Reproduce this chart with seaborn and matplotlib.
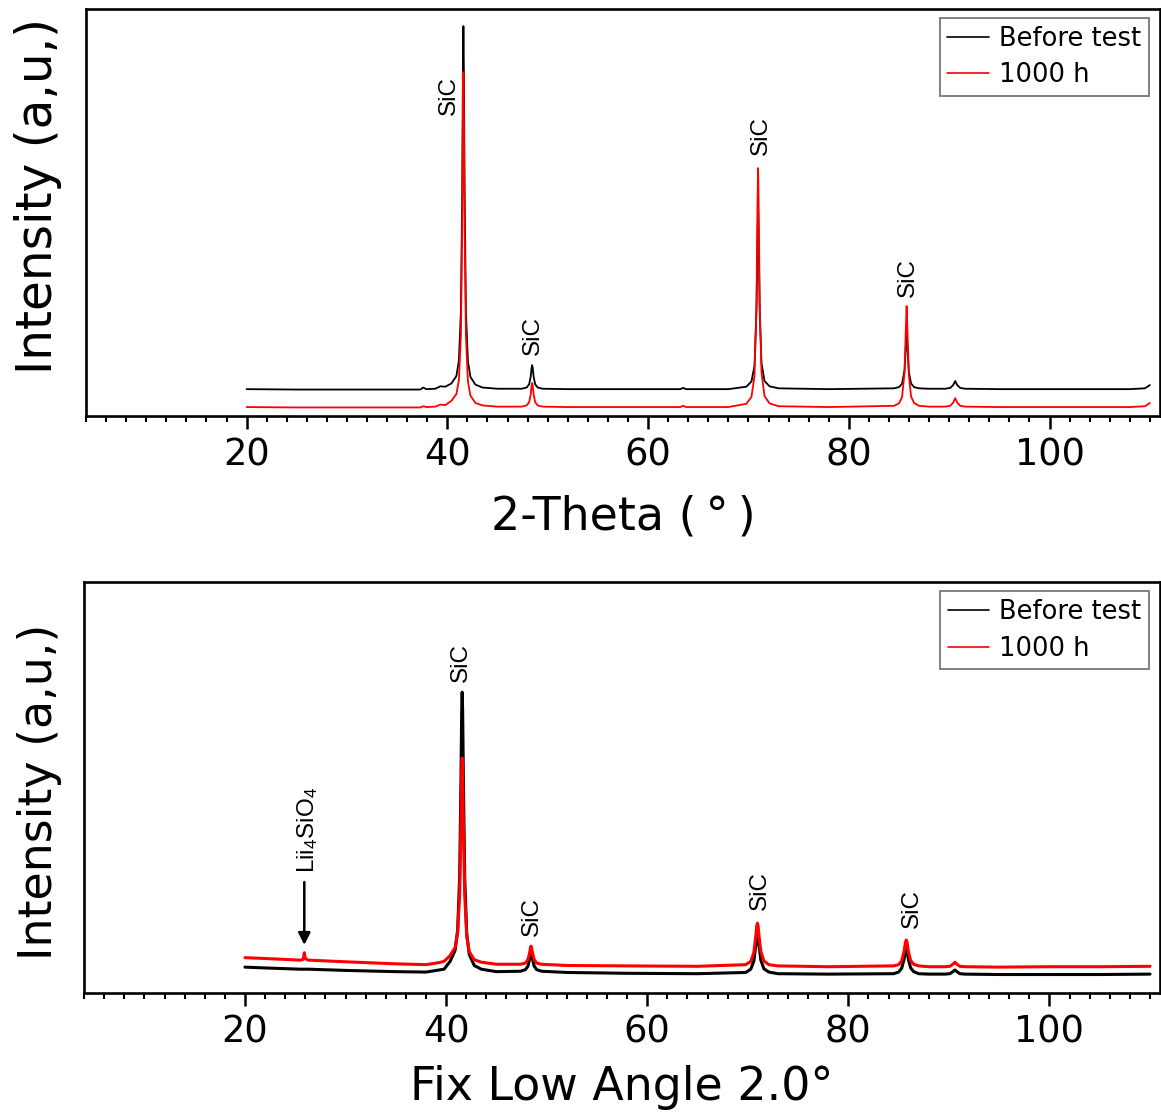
import numpy as np
import pandas as pd
import matplotlib
matplotlib.use("Agg")
import matplotlib.pyplot as plt
from matplotlib.ticker import MultipleLocator
import seaborn as sns

# ---------------- data ----------------
series_names = ["Before test", "1000 h"]
series_colors = ["#000000", "#ff0000"]

# Upper panel: standard scan
top_theta = [20, 25, 30, 35, 37.3, 37.6, 37.9, 38.8, 39.3, 39.8, 40.4, 40.9, 41.15, 41.35,
             41.48, 41.55, 41.6, 41.65, 41.72, 41.85, 42.05, 42.3, 42.8, 43.5, 45, 47.4,
             47.9, 48.15, 48.3, 48.4, 48.45, 48.5, 48.6, 48.75, 49.0, 49.5, 52, 58, 63.2,
             63.5, 63.8, 68, 69.8, 70.3, 70.6, 70.8, 70.9, 70.96, 71.02, 71.12, 71.3, 71.6,
             72.1, 73, 78, 84.5, 85.0, 85.3, 85.55, 85.68, 85.76, 85.84, 85.98, 86.2, 86.5,
             87.0, 88, 89.6, 90.1, 90.4, 90.6, 90.8, 91.1, 91.6, 95, 100, 105, 108, 109.5, 110]
top_before = [66, 65, 65, 65, 65, 70, 66, 67, 73, 72, 80, 98, 136, 257,
              548, 843, 958, 843, 548, 256, 135, 96, 77, 70, 67, 67,
              70, 78, 96, 119, 125, 119, 96, 78, 70, 67, 66, 66, 66,
              69, 66, 66, 72, 85, 123, 257, 438, 506, 438, 257, 130, 86,
              73, 68, 66, 68, 71, 79, 112, 171, 200, 171, 109, 80, 71,
              68, 67, 67, 69, 76, 86, 76, 69, 67, 66, 66, 66, 66, 68, 76]
top_1000h = [22, 21, 21, 21, 21, 24, 22, 23, 28, 27, 37, 54, 88, 197,
             466, 739, 845, 739, 466, 197, 85, 50, 32, 26, 23, 23,
             26, 34, 52, 75, 81, 75, 52, 34, 26, 23, 22, 22, 22,
             25, 22, 22, 30, 47, 98, 277, 518, 609, 518, 277, 107, 49,
             31, 24, 22, 25, 31, 46, 106, 215, 270, 215, 101, 48, 32,
             25, 23, 23, 25, 33, 44, 33, 25, 23, 22, 22, 22, 22, 24, 32]

# Lower panel: fixed low-angle (2.0 deg) scan
low_theta = [20, 22, 25.5, 25.8, 25.9, 26.0, 26.3, 30, 35, 38, 39.3, 39.8, 40.4, 40.9,
             41.15, 41.35, 41.48, 41.55, 41.6, 41.65, 41.72, 41.85, 42.05, 42.3, 42.8,
             43.5, 45, 47.4, 47.9, 48.15, 48.3, 48.4, 48.45, 48.5, 48.6, 48.75, 49.0,
             49.5, 52, 58, 65, 69.8, 70.3, 70.6, 70.8, 70.9, 70.96, 71.02, 71.12, 71.3,
             71.6, 72.1, 73, 78, 84.5, 85.0, 85.3, 85.55, 85.68, 85.76, 85.84, 85.98,
             86.2, 86.5, 87.0, 88, 89.6, 90.1, 90.4, 90.6, 90.8, 91.1, 91.6, 95, 100,
             105, 110]
low_before = [63, 61, 58, 58, 58, 58, 58, 55, 52, 51, 56, 58, 77, 104,
              154, 283, 521, 684, 732, 684, 521, 283, 146, 94, 67,
              58, 52, 53, 57, 66, 82, 97, 100, 97, 82, 66, 57,
              53, 50, 48, 47, 50, 58, 78, 116, 139, 144, 139, 116, 80,
              59, 51, 47, 46, 47, 51, 60, 83, 103, 109, 103, 81,
              61, 52, 47, 46, 46, 47, 52, 56, 52, 47, 46, 45, 45,
              45, 46]
low_1000h = [86, 84, 80, 82, 98, 84, 80, 76, 71, 69, 74, 77, 91, 111,
             145, 241, 416, 537, 572, 537, 416, 241, 139, 101, 81,
             75, 70, 70, 73, 82, 97, 111, 114, 111, 97, 82, 73,
             70, 67, 66, 65, 69, 77, 98, 139, 164, 170, 164, 139, 101,
             78, 69, 66, 64, 66, 69, 78, 102, 123, 129, 123, 100,
             79, 70, 66, 64, 64, 65, 70, 75, 70, 65, 64, 63, 64,
             64, 65]

top_labels = [("SiC", 40.15, 740), ("SiC", 48.55, 150), ("SiC", 71.2, 641), ("SiC", 85.9, 292)]
low_labels = [("SiC", 41.5, 757), ("SiC", 48.5, 139), ("SiC", 71.2, 202), ("SiC", 86.3, 158)]
li_label = (r"Lii$_4$SiO$_4$", 26.2, 292)
li_arrow = (25.9, 270, 117)

# ---------------- style ----------------
sns.set_theme(style="ticks")
plt.rcParams["font.family"] = ["DejaVu Sans"]
plt.rcParams["text.color"] = "black"
plt.rcParams["axes.labelcolor"] = "black"
plt.rcParams["xtick.color"] = "black"
plt.rcParams["mathtext.fontset"] = "custom"
plt.rcParams["mathtext.rm"] = "Liberation Sans"
plt.rcParams["mathtext.it"] = "Liberation Sans"

fig = plt.figure(figsize=(11.61, 11.15), dpi=100)
ax_top = fig.add_axes([0.0741, 0.6269, 0.9250, 0.3650])
ax_low = fig.add_axes([0.0724, 0.1094, 0.9268, 0.3686])


def long_frame(theta, a, b):
    return pd.DataFrame({
        "theta": list(theta) + list(theta),
        "intensity": list(a) + list(b),
        "sample": [series_names[0]] * len(theta) + [series_names[1]] * len(theta),
    })


def draw_panel(ax, df, lw, labels, xlabel, xpad, ysize, yx, ypos):
    sns.lineplot(data=df, x="theta", y="intensity", hue="sample",
                 hue_order=series_names, palette=series_colors,
                 estimator=None, sort=False, linewidth=lw, ax=ax)
    ax.set_xlim(4, 111)
    ax.set_ylim(0, 1000)
    ax.xaxis.set_major_locator(MultipleLocator(20))
    ax.xaxis.set_minor_locator(MultipleLocator(2))
    ax.set_yticks([])
    ax.tick_params(axis="x", which="major", direction="out", length=9,
                   width=1.8, labelsize=26.5, pad=6, colors="black")
    ax.tick_params(axis="x", which="minor", direction="out", length=4.5, width=1.5,
                   colors="black")
    for sp in ax.spines.values():
        sp.set_visible(True)
        sp.set_linewidth(1.9)
        sp.set_color("black")
    ax.set_xlabel(xlabel, fontsize=33, labelpad=xpad, color="black")
    ax.set_ylabel("Intensity (a,u,)", fontsize=ysize, color="black")
    ax.yaxis.set_label_coords(yx, ypos)
    for text, x, y in labels:
        ax.text(x, y, text, rotation=90, ha="center", va="bottom",
                fontsize=17.5, family="Liberation Sans", color="black")
    handles, _ = ax.get_legend_handles_labels()
    for h in handles:
        h.set_linewidth(1.2)
    leg = ax.legend(handles, series_names, loc="upper right",
                    bbox_to_anchor=(0.9895, 0.978), fontsize=18.5,
                    frameon=True, fancybox=False, framealpha=1,
                    edgecolor="#777777", handlelength=1.6, handletextpad=0.4,
                    borderpad=0.3, labelspacing=0.42, borderaxespad=0)
    leg.get_frame().set_linewidth(1.3)
    for t in leg.get_texts():
        t.set_color("black")


draw_panel(ax_top, long_frame(top_theta, top_before, top_1000h), 1.3,
           top_labels, "2-Theta (\u2009\u00b0\u2009)", 15, 35, -0.0223, 0.54)
draw_panel(ax_low, long_frame(low_theta, low_before, low_1000h), 2.2,
           low_labels, "Fix Low Angle 2.0\u00b0", 10, 33, -0.0204, 0.49)

ax_low.text(li_label[1], li_label[2], li_label[0], rotation=90, ha="center",
            va="bottom", fontsize=17.5, family="Liberation Sans", color="black")
ax_low.annotate("", xy=(li_arrow[0], li_arrow[2]), xytext=(li_arrow[0], li_arrow[1]),
                arrowprops=dict(arrowstyle="-|>", color="black", lw=1.8,
                                mutation_scale=18, shrinkA=0, shrinkB=0))

fig.savefig("out.png", dpi=100)
